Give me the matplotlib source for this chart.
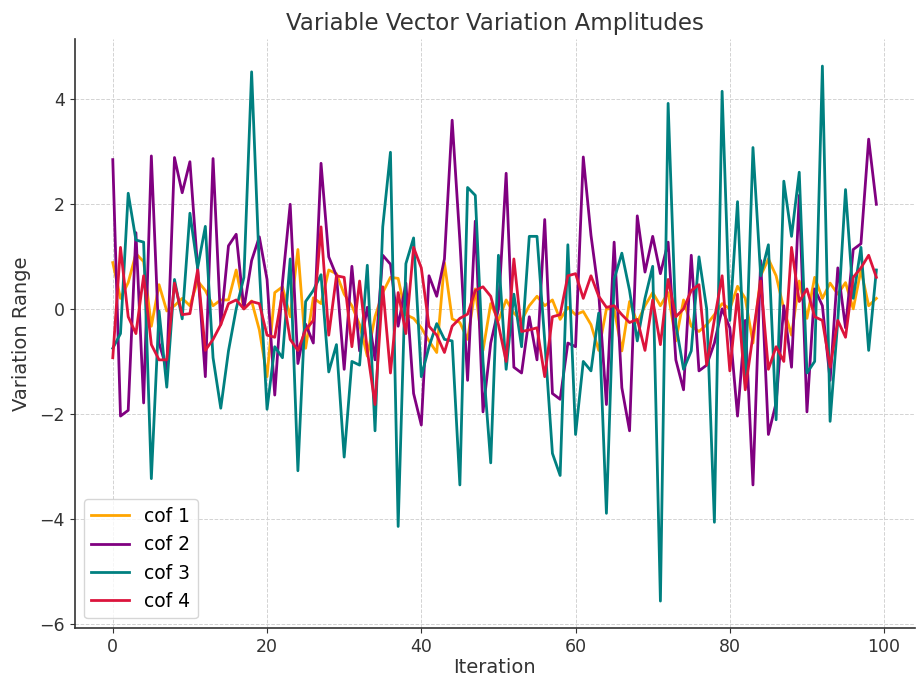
import matplotlib
matplotlib.use("Agg")
import matplotlib.pyplot as plt
import numpy as np

iterations = list(range(100))

cof1 = [0.88, 0.2, 0.5, 1.05, 0.9, -0.33, 0.46, -0.04, 0.06, 0.2,
        0.06, 0.53, 0.35, 0.06, 0.17, 0.17, 0.74, 0.0, 0.15, -0.4,
        -1.29, 0.31, 0.42, -0.15, 1.13, -0.75, 0.21, 0.1, 0.74, 0.67,
        0.28, 0.06, -0.3, -0.9, -0.15, 0.31, 0.6, 0.58, -0.11, -0.18,
        -0.36, -0.61, -0.83, 0.88, -0.19, -0.26, -0.58, 0.38, -0.79, 0.1,
        -0.22, 0.17, -0.08, -0.22, 0.06, 0.24, 0.06, 0.17, -0.2, 0.03,
        -0.11, -0.05, -0.3, -0.79, 0.0, 0.0, -0.8, 0.14, -0.26, 0.06,
        0.31, 0.06, 0.31, -0.61, 0.17, -0.33, -0.43, -0.3, -0.11, 0.1,
        0.0, 0.43, 0.2, -0.65, 0.63, 0.95, 0.63, 0.0, -0.5, 0.53,
        -0.18, 0.6, 0.2, 0.49, 0.28, 0.5, 0.0, 0.74, 0.06, 0.2]

cof2 = [2.84, -2.04, -1.93, 1.45, -1.79, 2.91, -0.65, -1.15, 2.88, 2.21,
        2.8, 0.78, -1.29, 2.86, -0.3, 1.2, 1.42, 0.0, 0.92, 1.37,
        0.56, -1.64, 0.5, 1.99, -1.04, -0.29, -0.65, 2.77, 0.99, 0.63,
        -1.15, 0.81, -0.8, 0.03, -0.97, 1.02, 0.85, -0.33, 0.49, -1.61,
        -2.21, 0.63, 0.24, 0.95, 3.59, 1.3, -1.36, 1.67, -1.96, -0.65,
        0.0, 2.58, -1.11, -1.22, -0.15, -0.97, 1.7, -1.61, -1.72, -0.65,
        -0.72, 2.89, 1.4, 0.3, -1.82, 1.27, -1.5, -2.32, 1.77, 0.7,
        1.38, 0.67, 1.27, -0.97, -1.54, 1.02, -1.18, -1.07, -0.65, 0.0,
        -0.36, -2.04, -0.22, -3.35, 0.92, -2.39, -1.79, 0.06, -1.11, 2.16,
        -1.96, 0.38, 0.06, -1.36, 0.78, -0.36, 1.13, 1.24, 3.23, 1.99]

cof3 = [-0.75, -0.47, 2.2, 1.31, 1.27, -3.23, -0.04, -1.49, 0.56, -0.19,
        1.82, 0.78, 1.57, -0.93, -1.89, -0.8, 0.0, 0.6, 4.51, 0.78,
        -1.91, -0.72, -0.93, 0.95, -3.08, 0.14, 0.35, 0.65, -1.2, -0.68,
        -2.82, -1.0, -1.07, 0.83, -2.32, 1.56, 2.98, -4.14, 0.86, 1.35,
        -1.29, -0.72, -0.28, -0.58, -0.61, -3.35, 2.31, 2.16, -1.0, -2.93,
        1.02, -1.15, 0.28, -0.72, 1.38, 1.38, -0.6, -2.75, -3.17, 1.22,
        -2.39, -1.0, -1.18, -0.08, -3.89, 0.56, 1.06, 0.35, -0.61, 0.2,
        0.81, -5.56, 3.91, -0.3, -1.15, -0.8, 0.99, 0.0, -4.06, 4.14,
        -0.22, 2.04, -1.43, 3.07, 0.63, 1.22, -2.11, 2.43, 1.38, 2.6,
        -1.22, -1.0, 4.62, -2.14, -0.22, 2.27, 0.2, 1.17, -0.79, 0.74]

cof4 = [-0.93, 1.17, -0.15, -0.47, 0.63, -0.68, -0.97, -0.97, 0.49, -0.11,
        -0.09, 0.74, -0.79, -0.58, -0.3, 0.1, 0.17, 0.0, 0.14, 0.1,
        -0.5, -0.54, 0.31, -0.58, -0.79, -0.4, -0.22, 1.56, -0.5, 0.63,
        0.6, -0.72, 0.53, -0.79, -1.82, 0.42, -1.22, 0.31, -0.47, 1.17,
        0.78, -0.33, -0.5, -0.83, -0.33, -0.18, -0.1, 0.35, 0.42, 0.24,
        -0.3, -1.0, 0.95, -0.43, -0.4, -0.36, -1.29, -0.15, -0.11, 0.63,
        0.67, 0.2, 0.63, 0.24, 0.03, 0.06, -0.11, -0.26, -0.2, -0.79,
        0.17, -0.68, 0.56, -0.15, 0.0, 0.35, 0.46, -1.07, -0.2, 0.63,
        -1.18, 0.28, -1.54, -0.5, 0.53, -1.15, -0.72, -1.0, 1.17, 0.14,
        0.38, -0.15, -0.22, -1.11, -0.22, -0.54, 0.6, 0.78, 1.02, 0.6]

series_labels = ["cof 1", "cof 2", "cof 3", "cof 4"]
series_colors = ["orange", "purple", "teal", "crimson"]

fig = plt.figure(figsize=(9.21, 6.78), dpi=100)
ax = fig.add_axes([0.081, 0.074, 0.912, 0.868])

for vals, lab, col in zip([cof1, cof2, cof3, cof4], series_labels, series_colors):
    ax.plot(iterations, vals, label=lab, color=col, linewidth=2)

ax.set_title("Variable Vector Variation Amplitudes", fontsize=16.5, color="#333333", pad=7)
ax.set_xlabel("Iteration", fontsize=14, color="#333333", labelpad=2)
ax.set_ylabel("Variation Range", fontsize=14, color="#333333", labelpad=6)
ax.tick_params(labelsize=12.5, colors="#333333")
ax.grid(True, linestyle="--", color="#d3d3d3", linewidth=0.7)
ax.spines["top"].set_visible(False)
ax.spines["right"].set_visible(False)
for s in ("left", "bottom"):
    ax.spines[s].set_color("#333333")
    ax.spines[s].set_linewidth(1.2)
ax.legend(loc="lower left", fontsize=13.5)

fig.savefig("out.png", dpi=100)
